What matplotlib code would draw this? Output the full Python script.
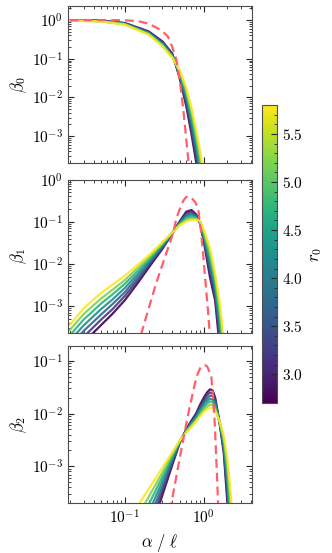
import numpy as np
import matplotlib
matplotlib.use("Agg")
import matplotlib.pyplot as plt
from matplotlib.colors import Normalize
from matplotlib.cm import ScalarMappable

plt.rcParams.update({
    "font.family": "serif",
    "font.serif": ["cmr10"],
    "mathtext.fontset": "cm",
    "axes.formatter.use_mathtext": True,
    "font.size": 11,
    "xtick.direction": "in", "ytick.direction": "in",
    "xtick.top": True, "ytick.right": True,
    "xtick.major.size": 4.5, "ytick.major.size": 4.5,
    "xtick.minor.size": 2.5, "ytick.minor.size": 2.5,
    "axes.edgecolor": "0.3",
})

# r0 of each curve (colour scale)
r0 = [2.7, 3.2, 3.7, 4.2, 4.7, 5.2, 5.8]
r0_range = (2.7, 5.8)

# beta_0 : log10 values, one row per r0
alpha0 = [0.02, 0.05, 0.1, 0.2, 0.3, 0.4, 0.45, 0.5, 0.6, 0.7, 0.8, 0.9, 1.0]
log_beta0 = [
    [0.0, -0.013, -0.076, -0.292, -0.553, -0.870, -1.205, -1.53, -2.22, -2.95, -3.66, -4.40, -5.2],
    [-0.002, -0.017, -0.083, -0.306, -0.574, -0.888, -1.196, -1.49, -2.14, -2.84, -3.52, -4.23, -5.0],
    [-0.004, -0.021, -0.090, -0.320, -0.595, -0.906, -1.187, -1.46, -2.06, -2.72, -3.38, -4.06, -4.8],
    [-0.007, -0.025, -0.098, -0.335, -0.616, -0.925, -1.178, -1.42, -1.98, -2.61, -3.24, -3.89, -4.6],
    [-0.009, -0.028, -0.105, -0.349, -0.636, -0.943, -1.168, -1.38, -1.90, -2.49, -3.10, -3.71, -4.4],
    [-0.011, -0.032, -0.112, -0.363, -0.657, -0.961, -1.159, -1.35, -1.82, -2.38, -2.96, -3.54, -4.2],
    [-0.013, -0.036, -0.119, -0.377, -0.678, -0.979, -1.150, -1.31, -1.74, -2.26, -2.82, -3.37, -4.0],
]
ref_alpha0 = [0.02, 0.05, 0.1, 0.15, 0.2, 0.25, 0.3, 0.35, 0.4, 0.45, 0.5, 0.55, 0.6, 0.65, 0.7]
ref_log_beta0 = [0.0, 0.0, -0.004, -0.032, -0.092, -0.194, -0.292, -0.42, -0.70, -1.02,
                 -1.60, -2.30, -3.07, -3.80, -4.46]

# beta_1
alpha1 = [0.02, 0.03, 0.05, 0.07, 0.1, 0.15, 0.2, 0.3, 0.4, 0.5, 0.6, 0.7, 0.8, 0.9, 1.0,
          1.2, 1.4, 1.6, 1.8]
log_beta1 = [
    [-4.19, -3.86, -3.45, -3.18, -2.86, -2.42, -2.09, -1.64, -1.27, -0.98, -0.76, -0.72, -0.82, -1.04, -1.45, -2.31, -2.88, -4.00, -5.0],
    [-4.07, -3.73, -3.32, -3.07, -2.76, -2.35, -2.04, -1.61, -1.27, -1.00, -0.80, -0.76, -0.84, -1.03, -1.41, -2.19, -2.77, -3.82, -4.8],
    [-3.94, -3.59, -3.20, -2.95, -2.67, -2.28, -1.99, -1.59, -1.26, -1.01, -0.84, -0.80, -0.86, -1.02, -1.36, -2.08, -2.66, -3.64, -4.6],
    [-3.82, -3.46, -3.07, -2.84, -2.57, -2.21, -1.95, -1.56, -1.26, -1.03, -0.88, -0.84, -0.89, -1.01, -1.32, -1.96, -2.56, -3.46, -4.4],
    [-3.70, -3.32, -2.94, -2.72, -2.47, -2.14, -1.90, -1.53, -1.26, -1.05, -0.91, -0.88, -0.91, -1.00, -1.27, -1.84, -2.45, -3.28, -4.2],
    [-3.57, -3.19, -2.82, -2.61, -2.38, -2.07, -1.85, -1.51, -1.25, -1.06, -0.95, -0.92, -0.93, -0.99, -1.23, -1.73, -2.34, -3.10, -4.0],
    [-3.45, -3.05, -2.69, -2.49, -2.28, -2.00, -1.80, -1.48, -1.25, -1.08, -0.99, -0.96, -0.95, -0.98, -1.18, -1.61, -2.23, -2.92, -3.8],
]
ref_alpha1 = [0.15, 0.163, 0.2, 0.25, 0.3, 0.35, 0.41, 0.45, 0.5, 0.55, 0.6, 0.63, 0.7, 0.78,
              0.85, 0.92, 0.98, 1.05, 1.13, 1.19, 1.25]
ref_log_beta1 = [-4.0, -3.63, -3.06, -2.45, -2.01, -1.64, -1.26, -0.92, -0.68, -0.50, -0.41,
                 -0.395, -0.43, -0.53, -0.68, -1.2, -1.74, -2.4, -3.08, -3.63, -4.3]

# beta_2
alpha2 = [0.1, 0.15, 0.2, 0.3, 0.4, 0.5, 0.6, 0.7, 0.8, 0.9, 1.0, 1.1, 1.2, 1.3, 1.4, 1.6,
          1.8, 2.0, 2.2, 2.4]
log_beta2 = [
    [-5.50, -4.90, -4.33, -3.54, -2.97, -2.54, -2.30, -2.13, -2.00, -1.83, -1.70, -1.60, -1.54, -1.56, -1.70, -2.20, -2.75, -3.70, -5.00, -6.00],
    [-5.27, -4.70, -4.18, -3.45, -2.93, -2.53, -2.31, -2.15, -2.03, -1.87, -1.75, -1.65, -1.60, -1.62, -1.74, -2.19, -2.70, -3.56, -4.75, -5.72],
    [-5.05, -4.51, -4.03, -3.37, -2.89, -2.53, -2.32, -2.17, -2.05, -1.90, -1.79, -1.71, -1.66, -1.67, -1.78, -2.18, -2.64, -3.42, -4.50, -5.43],
    [-4.82, -4.31, -3.88, -3.28, -2.85, -2.52, -2.33, -2.19, -2.08, -1.94, -1.84, -1.76, -1.72, -1.73, -1.83, -2.18, -2.59, -3.28, -4.25, -5.15],
    [-4.59, -4.11, -3.73, -3.19, -2.81, -2.51, -2.34, -2.21, -2.10, -1.98, -1.88, -1.81, -1.77, -1.78, -1.87, -2.17, -2.53, -3.13, -4.00, -4.87],
    [-4.37, -3.92, -3.58, -3.11, -2.77, -2.51, -2.35, -2.23, -2.13, -2.02, -1.93, -1.87, -1.83, -1.84, -1.91, -2.16, -2.48, -2.99, -3.75, -4.58],
    [-4.14, -3.72, -3.43, -3.02, -2.73, -2.50, -2.36, -2.25, -2.15, -2.05, -1.97, -1.92, -1.89, -1.89, -1.95, -2.15, -2.42, -2.85, -3.50, -4.30],
]
ref_alpha2 = [0.35, 0.39, 0.45, 0.52, 0.6, 0.665, 0.74, 0.81, 0.9, 0.95, 1.03, 1.1, 1.15,
              1.25, 1.32, 1.38, 1.47, 1.52, 1.58]
ref_log_beta2 = [-4.1, -3.69, -3.19, -2.68, -2.20, -1.87, -1.56, -1.30, -1.14, -1.10, -1.08,
                 -1.10, -1.16, -1.30, -1.72, -2.18, -3.12, -3.69, -4.4]

panels = [
    (alpha0, log_beta0, ref_alpha0, ref_log_beta0, r"$\beta_0$", (2e-4, 2.3)),
    (alpha1, log_beta1, ref_alpha1, ref_log_beta1, r"$\beta_1$", (2.3e-4, 1.0)),
    (alpha2, log_beta2, ref_alpha2, ref_log_beta2, r"$\beta_2$", (2e-4, 0.19)),
]
boxes = [(0.205, 0.705, 0.554, 0.284), (0.205, 0.398, 0.554, 0.277),
         (0.205, 0.090, 0.554, 0.284)]

cmap = plt.get_cmap("viridis")
norm = Normalize(*r0_range)
fig = plt.figure(figsize=(3.32, 5.53), dpi=100)

for i, ((a, curves, ra, rb, lab, ylim), box) in enumerate(zip(panels, boxes)):
    ax = fig.add_axes(box)
    for r, c in zip(r0, curves):
        ax.plot(a, 10 ** np.array(c), color=cmap(norm(r)), lw=1.6, alpha=0.9)
    ax.plot(ra, 10 ** np.array(rb), color="#ff5f6b", lw=1.6, ls=(0, (4, 2.2)), zorder=5)
    ax.set_xscale("log"); ax.set_yscale("log")
    ax.set_xlim(0.019, 4.1); ax.set_ylim(*ylim)
    ax.set_ylabel(lab, fontsize=12, labelpad=2)
    ax.tick_params(which="both", color="0.15")
    if i < 2:
        ax.set_xticklabels([])
    else:
        ax.set_xlabel(r"$\alpha\ /\ \ell$", fontsize=12)

cax = fig.add_axes([0.789, 0.271, 0.045, 0.539])
cb = fig.colorbar(ScalarMappable(norm=norm, cmap=cmap), cax=cax)
cb.set_ticks([3.0, 3.5, 4.0, 4.5, 5.0, 5.5])
cb.ax.minorticks_on()
cb.ax.tick_params(which="both", direction="in", color="0.15")
cb.outline.set_edgecolor("0.3")
cb.set_label(r"$r_0$", fontsize=12)

fig.savefig("out.png", dpi=100)
